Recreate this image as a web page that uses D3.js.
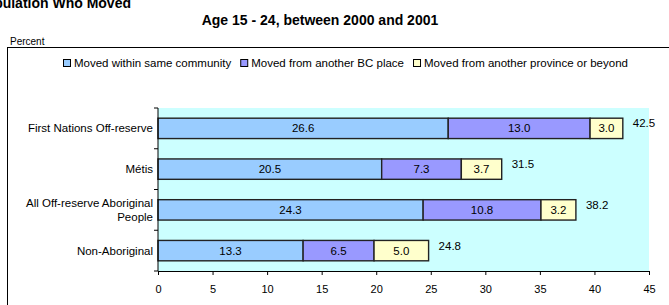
<!DOCTYPE html>
<html>
<head>
<meta charset="utf-8">
<script src="https://cdn.jsdelivr.net/npm/d3@7"></script>
<style>
  body { margin: 0; background: #fff; }
  svg { font-family: "Liberation Sans", Arial, sans-serif; }
</style>
</head>
<body>
<div id="chart"></div>
<script>
// Daten
const categories = ["First Nations Off-reserve", "Métis", "All Off-reserve Aboriginal People", "Non-Aboriginal"]
const seriesNames = ["Moved within same community", "Moved from another BC place", "Moved from another province or beyond"]
const withinCommunity = [26.6, 20.5, 24.3, 13.3]
const otherBCPlace = [13.0, 7.3, 10.8, 6.5]
const otherProvince = [3.0, 3.7, 3.2, 5.0]
const totals = [42.5, 31.5, 38.2, 24.8]
const xTicks = [0, 5, 10, 15, 20, 25, 30, 35, 40, 45]
const colors = ["#99ccff", "#9999ff", "#ffffcc"]

const width = 669
const height = 305
const plot = {left: 158, right: 649, top: 108, bottom: 271}

let svg = d3.select("#chart")
    .append("svg")
    .attr("width", width)
    .attr("height", height)

// Titel (oben abgeschnitten wie im Original)
svg.append("text")
    .attr("x", 131).attr("y", 8)
    .attr("text-anchor", "end")
    .attr("font-size", 14).attr("font-weight", "bold")
    .text("Aboriginal Population Who Moved")

svg.append("text")
    .attr("x", 320).attr("y", 25)
    .attr("text-anchor", "middle")
    .attr("font-size", 14).attr("font-weight", "bold")
    .text("Age 15 - 24, between 2000 and 2001")

svg.append("text")
    .attr("x", 10).attr("y", 45)
    .attr("font-size", 10)
    .text("Percent")

// Rahmen
svg.append("rect")
    .attr("x", 7.5).attr("y", 47.5)
    .attr("width", 700).attr("height", 300)
    .attr("fill", "none").attr("stroke", "#000").attr("stroke-width", 1)

// Skalen
let x = d3.scaleLinear().domain([0, 45]).range([plot.left, plot.right])
let y = d3.scaleBand().domain(categories).range([plot.top, plot.bottom]).paddingInner(0.5).paddingOuter(0.25)

svg.append("rect")
    .attr("x", plot.left).attr("y", plot.top)
    .attr("width", plot.right - plot.left).attr("height", plot.bottom - plot.top)
    .attr("fill", "#ccffff")

// Gestapelte Balken
let rows = categories.map(function(c, i) {
    return {cat: c, values: [withinCommunity[i], otherBCPlace[i], otherProvince[i]], total: totals[i]}
})

rows.forEach(function(r) {
    let start = 0
    r.values.forEach(function(v, j) {
        let x0 = x(start), x1 = x(start + v)
        svg.append("rect")
            .attr("x", x0).attr("y", y(r.cat))
            .attr("width", x1 - x0).attr("height", y.bandwidth())
            .attr("fill", colors[j])
            .attr("stroke", "#222").attr("stroke-width", 1.4)
        svg.append("text")
            .attr("x", (x0 + x1) / 2).attr("y", y(r.cat) + y.bandwidth() / 2 + 4)
            .attr("text-anchor", "middle")
            .attr("font-size", 11.5)
            .text(v.toFixed(1))
        start += v
    })
    svg.append("text")
        .attr("x", x(start) + 10).attr("y", y(r.cat) + y.bandwidth() / 2 - 1)
        .attr("font-size", 11.5)
        .text(r.total.toFixed(1))
})

// x-Achse
let xAxis = svg.append("g")
    .attr("transform", `translate(0, ${plot.bottom})`)
    .call(d3.axisBottom(x).tickValues(xTicks).tickSize(4).tickSizeOuter(0).tickPadding(10))
xAxis.select(".domain").attr("stroke", "#000")
xAxis.selectAll("text").attr("font-size", 11).attr("font-family", "Liberation Sans, Arial, sans-serif")

// y-Achse mit Ticks zwischen den Kategorien
let yTickScale = d3.scaleLinear().domain([0, categories.length]).range([plot.top, plot.bottom])
svg.append("line")
    .attr("x1", plot.left).attr("x2", plot.left)
    .attr("y1", plot.top).attr("y2", plot.bottom)
    .attr("stroke", "#000")
svg.selectAll(".ytick")
    .data(d3.range(categories.length + 1))
    .enter().append("line")
    .attr("x1", plot.left - 4).attr("x2", plot.left)
    .attr("y1", d => yTickScale(d)).attr("y2", d => yTickScale(d))
    .attr("stroke", "#000")

// Kategorienbeschriftung
let catLabels = {
    "First Nations Off-reserve": ["First Nations Off-reserve"],
    "Métis": ["Métis"],
    "All Off-reserve Aboriginal People": ["All Off-reserve Aboriginal", "People"],
    "Non-Aboriginal": ["Non-Aboriginal"]
}
categories.forEach(function(c) {
    let lines = catLabels[c]
    let cy = y(c) + y.bandwidth() / 2
    lines.forEach(function(l, k) {
        svg.append("text")
            .attr("x", plot.left - 5)
            .attr("y", cy + 4 + (k - (lines.length - 1) / 2) * 14)
            .attr("text-anchor", "end")
            .attr("font-size", 11.5)
            .text(l)
    })
})

// Legende
let lx = 63
seriesNames.forEach(function(n, j) {
    svg.append("rect")
        .attr("x", lx + 0.5).attr("y", 59.5)
        .attr("width", 7).attr("height", 7)
        .attr("fill", colors[j]).attr("stroke", "#000")
    let t = svg.append("text")
        .attr("x", lx + 11).attr("y", 67)
        .attr("font-size", 11.5)
        .text(n)
    lx = lx + 11 + t.node().getComputedTextLength() + 9
})
</script>
</body>
</html>
